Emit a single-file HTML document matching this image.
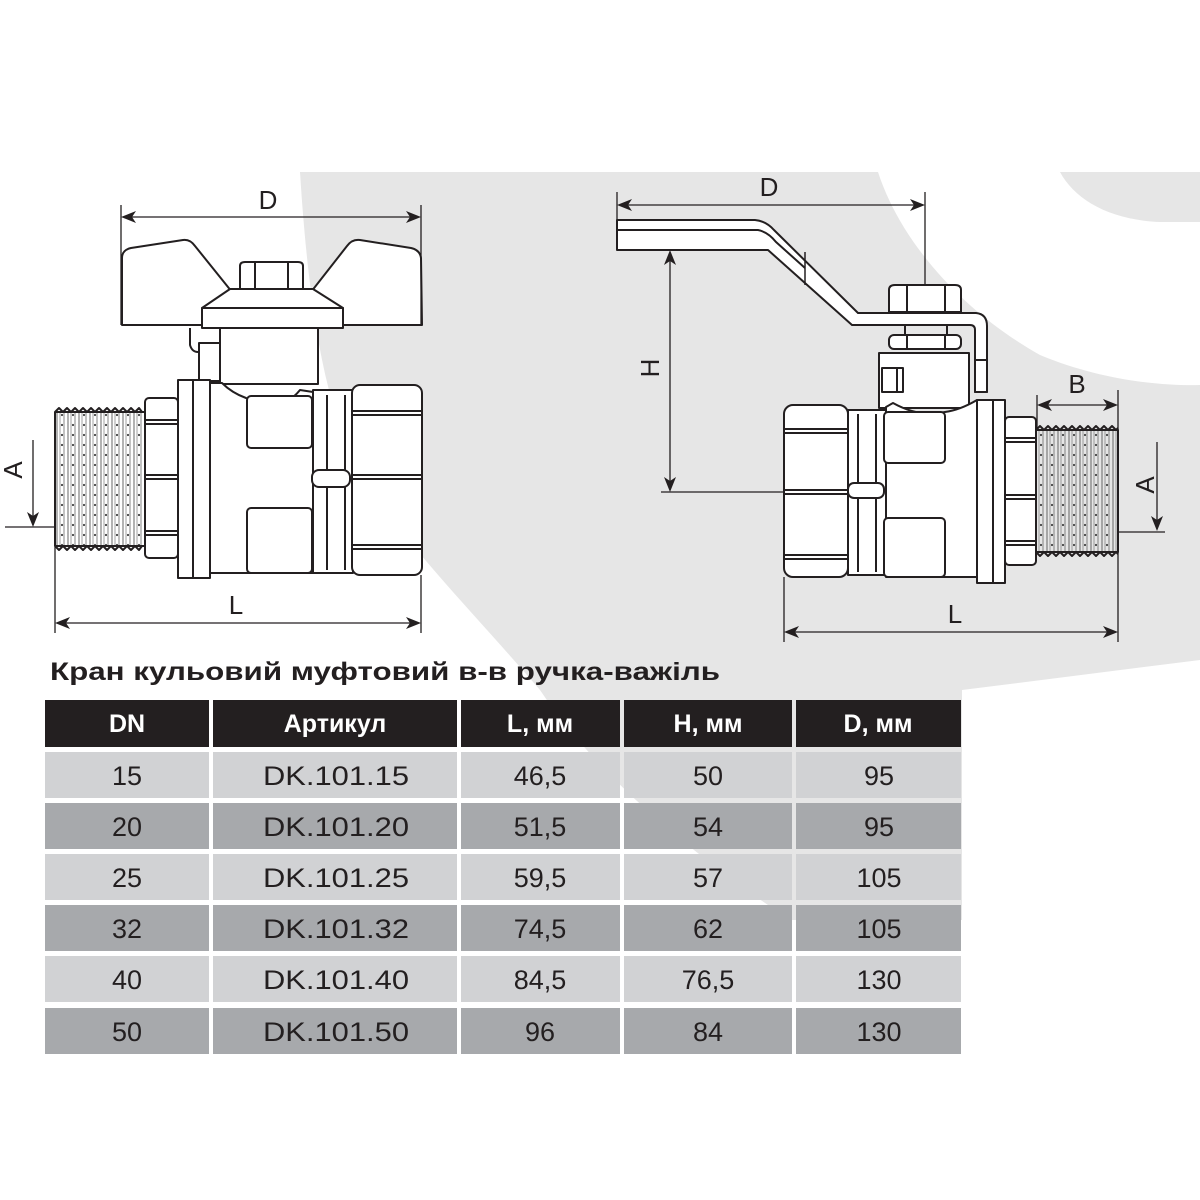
<!DOCTYPE html>
<html><head><meta charset="utf-8"><style>
html,body{margin:0;padding:0;background:#fff;width:1200px;height:1200px;overflow:hidden}
svg{display:block}
</style></head><body>
<svg width="1200" height="1200" viewBox="0 0 1200 1200" xmlns="http://www.w3.org/2000/svg" font-family="Liberation Sans, DejaVu Sans, sans-serif">
<defs>
<pattern id="thr" x="0" y="0" width="11" height="10" patternUnits="userSpaceOnUse">
<line x1="2" y1="0" x2="2" y2="10" stroke="#555" stroke-width="0.9"/>
<line x1="5" y1="0" x2="5" y2="10" stroke="#777" stroke-width="0.7"/>
<line x1="9" y1="0" x2="9" y2="10" stroke="#666" stroke-width="0.8"/>
<circle cx="7" cy="5" r="1.1" fill="#444"/>
</pattern>
</defs>
<!-- background gray shape -->
<path d="M300,172 L878,172 C900,240 960,310 1040,355 C1100,380 1160,386 1200,385 L1200,660 L962,690 L962,920 L790,920 C700,860 600,780 540,690 C480,620 420,560 370,490 C330,430 310,330 300,172 Z" fill="#e6e6e6"/>
<path d="M1060,172 L1200,172 L1200,222 L1160,222 C1110,220 1075,200 1060,172 Z" fill="#e6e6e6"/>

<g stroke="#231f20" stroke-width="2" fill="#fff" stroke-linejoin="round">
<!-- ===== LEFT VALVE ===== -->
<path d="M122,325 L122,258 Q122,250 131,248 L183,240 Q190,239 195,246 L232,292 L202,310 L202,325 Z"/>
<path d="M422,325 L421,258 Q420,250 411,248 L360,240 Q352,239 347,246 L311,292 L343,310 L343,325 Z"/>
<path d="M240,290 L240,266 Q240,262 245,262 L298,262 Q303,262 303,266 L303,290 Z"/>
<line x1="255" y1="263" x2="255" y2="289"/><line x1="288" y1="263" x2="288" y2="289"/>
<path d="M230,289 L313,289 L343,308 L202,308 Z"/>
<rect x="202" y="308" width="141" height="20"/>
<path d="M190,328 L190,345 Q192,352 198,352" fill="none"/>
<rect x="220" y="328" width="98" height="56"/>
<rect x="199" y="343" width="21" height="38"/>
<rect x="55" y="412" width="90" height="134" fill="url(#thr)"/>
<path d="M55,412 l4,-4 l4,4 l4,-4 l4,4 l4,-4 l4,4 l4,-4 l4,4 l4,-4 l4,4 l4,-4 l4,4 l4,-4 l4,4 l4,-4 l4,4 l4,-4 l4,4 l4,-4 l4,4 l4,-4 l3,4" fill="none"/>
<path d="M55,546 l4,4 l4,-4 l4,4 l4,-4 l4,4 l4,-4 l4,4 l4,-4 l4,4 l4,-4 l4,4 l4,-4 l4,4 l4,-4 l4,4 l4,-4 l4,4 l4,-4 l4,4 l4,-4 l4,4 l3,-4" fill="none"/>
<rect x="145" y="398" width="33" height="160" rx="4"/>
<line x1="145" y1="420" x2="178" y2="420"/><line x1="145" y1="424" x2="178" y2="424"/>
<line x1="145" y1="475" x2="178" y2="475"/><line x1="145" y1="479" x2="178" y2="479"/>
<line x1="145" y1="531" x2="178" y2="531"/><line x1="145" y1="535" x2="178" y2="535"/>
<path d="M210,383 L222,383 Q232,393 246,398 Q280,415 300,390 L313,392 L313,573 L210,573 Z"/>
<rect x="247" y="396" width="65" height="52" rx="4"/>
<rect x="247" y="508" width="65" height="65" rx="4"/>
<rect x="178" y="380" width="32" height="198"/>
<line x1="193" y1="381" x2="193" y2="577"/>
<rect x="313" y="390" width="40" height="183"/>
<line x1="327" y1="395" x2="327" y2="570"/><line x1="345" y1="395" x2="345" y2="570"/>
<rect x="312" y="470" width="38" height="17" rx="7"/>
<rect x="352" y="385" width="70" height="190" rx="8"/>
<line x1="352" y1="411" x2="422" y2="411"/><line x1="352" y1="415" x2="422" y2="415"/>
<line x1="352" y1="475" x2="422" y2="475"/><line x1="352" y1="479" x2="422" y2="479"/>
<line x1="352" y1="545" x2="422" y2="545"/><line x1="352" y1="549" x2="422" y2="549"/>

<!-- ===== RIGHT VALVE ===== -->
<path d="M617,220 L755,220 Q766,221 774,230 L858,313 L976,313 Q987,314 987,326 L987,392 L975,392 L975,330 Q975,325 970,325 L852,325 L768,250 L617,250 Z"/>
<path d="M617,230 L758,230 Q768,232 776,242 L805,268" fill="none"/>
<path d="M805,252 L805,285" fill="none" stroke-width="1.5"/>
<path d="M889,312 L889,290 Q889,285 895,285 L955,285 Q961,285 961,290 L961,312 Z"/>
<line x1="907" y1="286" x2="907" y2="311"/><line x1="945" y1="286" x2="945" y2="311"/>
<line x1="905" y1="325" x2="905" y2="335"/><line x1="947" y1="325" x2="947" y2="335"/>
<rect x="889" y="335" width="72" height="14" rx="5"/>
<line x1="907" y1="335" x2="907" y2="349"/><line x1="945" y1="335" x2="945" y2="349"/>
<rect x="879" y="353" width="90" height="55"/>
<rect x="882" y="368" width="21" height="24"/>
<line x1="897" y1="368" x2="897" y2="392"/>
<rect x="975" y="360" width="12" height="32"/>
<rect x="784" y="405" width="64" height="172" rx="9"/>
<line x1="784" y1="429" x2="848" y2="429"/><line x1="784" y1="433" x2="848" y2="433"/>
<line x1="784" y1="490" x2="848" y2="490"/><line x1="784" y1="494" x2="848" y2="494"/>
<line x1="784" y1="555" x2="848" y2="555"/><line x1="784" y1="559" x2="848" y2="559"/>
<rect x="848" y="410" width="38" height="165"/>
<line x1="858" y1="414" x2="858" y2="572"/><line x1="876" y1="414" x2="876" y2="572"/>
<rect x="848" y="483" width="36" height="15" rx="6"/>
<path d="M886,407 L893,403 Q920,418 945,412 Q960,410 977,400 L977,577 L886,577 Z"/>
<rect x="884" y="412" width="61" height="51" rx="4"/>
<rect x="884" y="518" width="61" height="59" rx="4"/>
<rect x="977" y="400" width="28" height="183"/>
<line x1="993" y1="401" x2="993" y2="582"/>
<rect x="1005" y="417" width="31" height="148" rx="4"/>
<line x1="1005" y1="438" x2="1036" y2="438"/><line x1="1005" y1="442" x2="1036" y2="442"/>
<line x1="1005" y1="495" x2="1036" y2="495"/><line x1="1005" y1="499" x2="1036" y2="499"/>
<line x1="1005" y1="541" x2="1036" y2="541"/><line x1="1005" y1="545" x2="1036" y2="545"/>
<rect x="1036" y="430" width="82" height="122" fill="url(#thr)"/>
<path d="M1036,430 l4,-4 l4,4 l4,-4 l4,4 l4,-4 l4,4 l4,-4 l4,4 l4,-4 l4,4 l4,-4 l4,4 l4,-4 l4,4 l4,-4 l4,4 l4,-4 l4,4 l4,-4 l4,4 l2,-2" fill="none"/>
<path d="M1036,552 l4,4 l4,-4 l4,4 l4,-4 l4,4 l4,-4 l4,4 l4,-4 l4,4 l4,-4 l4,4 l4,-4 l4,4 l4,-4 l4,4 l4,-4 l4,4 l4,-4 l4,4 l4,-4 l2,2" fill="none"/>
</g>

<g stroke="#231f20" stroke-width="1.3" fill="none">
<line x1="121" y1="205" x2="121" y2="325"/><line x1="421" y1="205" x2="421" y2="325"/>
<line x1="124" y1="217" x2="418" y2="217"/>
<line x1="55" y1="547" x2="55" y2="633"/><line x1="421" y1="575" x2="421" y2="633"/>
<line x1="58" y1="623" x2="418" y2="623"/>
<line x1="33" y1="440" x2="33" y2="524"/><line x1="5" y1="527" x2="55" y2="527"/>
<line x1="617" y1="192" x2="617" y2="250"/><line x1="925" y1="192" x2="925" y2="285"/>
<line x1="620" y1="205" x2="922" y2="205"/>
<line x1="670" y1="253" x2="670" y2="489"/><line x1="661" y1="492" x2="784" y2="492"/>
<line x1="1118" y1="390" x2="1118" y2="642"/><line x1="1039" y1="405" x2="1115" y2="405"/>
<line x1="1037" y1="395" x2="1037" y2="428"/>
<line x1="1157" y1="442" x2="1157" y2="528"/><line x1="1118" y1="532" x2="1165" y2="532"/>
<line x1="784" y1="577" x2="784" y2="642"/><line x1="787" y1="632" x2="1115" y2="632"/>
</g>
<g fill="#231f20">
<path d="M121,217 l15,-6 l-4,6 l4,6 z"/><path d="M421,217 l-15,-6 l4,6 l-4,6 z"/>
<path d="M55,623 l15,-6 l-4,6 l4,6 z"/><path d="M421,623 l-15,-6 l4,6 l-4,6 z"/>
<path d="M33,527 l-6,-15 l6,4 l6,-4 z"/>
<path d="M617,205 l15,-6 l-4,6 l4,6 z"/><path d="M925,205 l-15,-6 l4,6 l-4,6 z"/>
<path d="M670,250 l-6,15 l6,-4 l6,4 z"/><path d="M670,492 l-6,-15 l6,4 l6,-4 z"/>
<path d="M1037,405 l15,-6 l-4,6 l4,6 z"/><path d="M1118,405 l-15,-6 l4,6 l-4,6 z"/>
<path d="M1157,531 l-6,-15 l6,4 l6,-4 z"/>
<path d="M784,632 l15,-6 l-4,6 l4,6 z"/><path d="M1118,632 l-15,-6 l4,6 l-4,6 z"/>
</g>
<g fill="#231f20" font-size="26" text-anchor="middle">
<text x="268" y="209">D</text>
<text x="236" y="614">L</text>
<text x="769" y="196">D</text>
<text x="955" y="623">L</text>
<text x="1077" y="393">B</text>
<text transform="translate(22,470) rotate(-90)">A</text>
<text transform="translate(1154,485) rotate(-90)">A</text>
<text transform="translate(659,368) rotate(-90)">H</text>
</g>

<text x="50" y="680" font-size="25" font-weight="bold" fill="#231f20" textLength="670" lengthAdjust="spacingAndGlyphs">Кран кульовий муфтовий в-в ручка-важіль</text>

<g>
<rect x="45" y="700" width="164" height="47" fill="#231f20"/>
<rect x="213" y="700" width="244" height="47" fill="#231f20"/>
<rect x="461" y="700" width="159" height="47" fill="#231f20"/>
<rect x="624" y="700" width="168" height="47" fill="#231f20"/>
<rect x="796" y="700" width="165" height="47" fill="#231f20"/>
</g>
<g fill="#fff" font-size="25" font-weight="bold" text-anchor="middle">
<text x="127" y="732">DN</text>
<text x="335" y="732">Артикул</text>
<text x="540" y="732">L, мм</text>
<text x="708" y="732">H, мм</text>
<text x="878" y="732">D, мм</text>
</g>
<g>
<g fill="#d1d2d4">
<rect x="45" y="752" width="164" height="46"/><rect x="213" y="752" width="244" height="46"/><rect x="461" y="752" width="159" height="46"/><rect x="624" y="752" width="168" height="46"/><rect x="796" y="752" width="165" height="46"/>
<rect x="45" y="854" width="164" height="46"/><rect x="213" y="854" width="244" height="46"/><rect x="461" y="854" width="159" height="46"/><rect x="624" y="854" width="168" height="46"/><rect x="796" y="854" width="165" height="46"/>
<rect x="45" y="956" width="164" height="46"/><rect x="213" y="956" width="244" height="46"/><rect x="461" y="956" width="159" height="46"/><rect x="624" y="956" width="168" height="46"/><rect x="796" y="956" width="165" height="46"/>
</g>
<g fill="#a7a9ac">
<rect x="45" y="803" width="164" height="46"/><rect x="213" y="803" width="244" height="46"/><rect x="461" y="803" width="159" height="46"/><rect x="624" y="803" width="168" height="46"/><rect x="796" y="803" width="165" height="46"/>
<rect x="45" y="905" width="164" height="46"/><rect x="213" y="905" width="244" height="46"/><rect x="461" y="905" width="159" height="46"/><rect x="624" y="905" width="168" height="46"/><rect x="796" y="905" width="165" height="46"/>
<rect x="45" y="1008" width="164" height="46"/><rect x="213" y="1008" width="244" height="46"/><rect x="461" y="1008" width="159" height="46"/><rect x="624" y="1008" width="168" height="46"/><rect x="796" y="1008" width="165" height="46"/>
</g>
</g>
<g fill="#231f20" font-size="27" text-anchor="middle">
<text x="127" y="785">15</text><text x="336" y="785" textLength="146" lengthAdjust="spacingAndGlyphs">DK.101.15</text><text x="540" y="785">46,5</text><text x="708" y="785">50</text><text x="879" y="785">95</text>
<text x="127" y="836">20</text><text x="336" y="836" textLength="146" lengthAdjust="spacingAndGlyphs">DK.101.20</text><text x="540" y="836">51,5</text><text x="708" y="836">54</text><text x="879" y="836">95</text>
<text x="127" y="887">25</text><text x="336" y="887" textLength="146" lengthAdjust="spacingAndGlyphs">DK.101.25</text><text x="540" y="887">59,5</text><text x="708" y="887">57</text><text x="879" y="887">105</text>
<text x="127" y="938">32</text><text x="336" y="938" textLength="146" lengthAdjust="spacingAndGlyphs">DK.101.32</text><text x="540" y="938">74,5</text><text x="708" y="938">62</text><text x="879" y="938">105</text>
<text x="127" y="989">40</text><text x="336" y="989" textLength="146" lengthAdjust="spacingAndGlyphs">DK.101.40</text><text x="540" y="989">84,5</text><text x="708" y="989">76,5</text><text x="879" y="989">130</text>
<text x="127" y="1041">50</text><text x="336" y="1041" textLength="146" lengthAdjust="spacingAndGlyphs">DK.101.50</text><text x="540" y="1041">96</text><text x="708" y="1041">84</text><text x="879" y="1041">130</text>
</g>
</svg>
</body></html>
